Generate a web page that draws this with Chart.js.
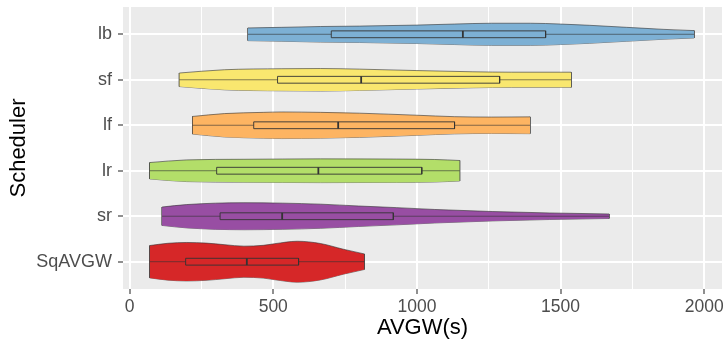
<!DOCTYPE html>
<html>
<head>
<meta charset="utf-8">
<script src="https://cdn.jsdelivr.net/npm/chart.js@4.4.1/dist/chart.umd.min.js"></script>
<style>
  html, body { margin: 0; padding: 0; background: #fff; }
  #wrap { width: 727px; height: 351px; }
</style>
</head>
<body>
<div id="wrap"><canvas id="violins"></canvas></div>
<script>
// bottom to top, as on the y axis
const schedulers = ['SqAVGW', 'sr', 'lr', 'lf', 'sf', 'lb'];
const fills = ['#D62728', '#984EA3', '#B3DE69', '#FDB462', '#F9E76F', '#7DB0D4'];

// box stats (AVGW seconds)
const q1 = [195, 315, 303, 432, 515, 702];
const medians = [408, 531, 657, 726, 806, 1160];
const q3 = [588, 918, 1017, 1131, 1288, 1448];

// density outline: where it was read, and relative width (1 = widest violin)
const sqavgwAt = [70, 133, 199, 266, 332, 398, 465, 505, 584, 664, 744, 817];
const sqavgwDensity = [0.79, 0.90, 0.94, 0.91, 0.83, 0.76, 0.80, 0.88, 1.0, 0.89, 0.61, 0.38];
const srAt = [113, 199, 398, 531, 664, 797, 930, 1062, 1262, 1461, 1669];
const srDensity = [0.45, 0.57, 0.66, 0.64, 0.59, 0.50, 0.42, 0.33, 0.23, 0.16, 0.11];
const lrAt = [70, 199, 398, 664, 930, 1062, 1149];
const lrDensity = [0.40, 0.53, 0.56, 0.58, 0.57, 0.55, 0.50];
const lfAt = [219, 330, 465, 530, 665, 800, 1000, 1130, 1260, 1394];
const lfDensity = [0.43, 0.57, 0.63, 0.65, 0.63, 0.59, 0.49, 0.42, 0.40, 0.41];
const sfAt = [173, 330, 530, 665, 800, 1000, 1195, 1330, 1537];
const sfDensity = [0.33, 0.49, 0.54, 0.55, 0.52, 0.45, 0.39, 0.37, 0.37];
const lbAt = [412, 530, 665, 800, 1000, 1130, 1260, 1395, 1500, 1600, 1730, 1860, 1965];
const lbDensity = [0.31, 0.34, 0.38, 0.40, 0.45, 0.50, 0.54, 0.54, 0.50, 0.44, 0.34, 0.24, 0.18];

const outlineAt = [sqavgwAt, srAt, lrAt, lfAt, sfAt, lbAt];
const outlineDensity = [sqavgwDensity, srDensity, lrDensity, lfDensity, sfDensity, lbDensity];

const VIOLIN_HALF = 0.45;
const BOX_HALF = 0.075;
const INK = '#333333';

Chart.defaults.font.family = '"Liberation Sans", Arial, sans-serif';

function seg(points, opts) {
  return Object.assign({
    data: points,
    borderColor: INK,
    borderWidth: 0.6,
    pointRadius: 0,
    fill: false
  }, opts);
}

function violinDatasets(i) {
  const c = i + 1;
  const xs = outlineAt[i];
  const dens = outlineDensity[i];
  const last = xs.length - 1;
  const top = xs.map((x, k) => ({ x, y: c + dens[k] * VIOLIN_HALF }));
  const bottom = xs.map((x, k) => ({ x, y: c - dens[k] * VIOLIN_HALF }));
  const lo = c - BOX_HALF, hi = c + BOX_HALF;

  return [
    seg(top, { fill: '+1', backgroundColor: fills[i], cubicInterpolationMode: 'monotone', order: 4 }),
    seg(bottom, { cubicInterpolationMode: 'monotone', order: 4 }),
    seg([top[0], bottom[0]], { order: 4 }),
    seg([top[last], bottom[last]], { order: 4 }),
    seg([{ x: xs[0], y: c }, { x: q1[i], y: c }], { order: 3 }),
    seg([{ x: q3[i], y: c }, { x: xs[last], y: c }], { order: 3 }),
    seg([
      { x: q1[i], y: lo }, { x: q1[i], y: hi }, { x: q3[i], y: hi },
      { x: q3[i], y: lo }, { x: q1[i], y: lo }
    ], { borderWidth: 0.9, order: 2 }),
    seg([{ x: medians[i], y: lo }, { x: medians[i], y: hi }], { borderWidth: 1.8, order: 1 })
  ];
}

const datasets = [];
schedulers.forEach((_, i) => datasets.push(...violinDatasets(i)));

const panelBackground = {
  id: 'panelBackground',
  beforeDraw(chart) {
    const { ctx, chartArea: a } = chart;
    ctx.save();
    ctx.fillStyle = '#EBEBEB';
    ctx.fillRect(a.left, a.top, a.right - a.left, a.bottom - a.top);
    ctx.restore();
  }
};

const isMajor = ctx => ctx.tick && ctx.tick.value % 500 === 0;

new Chart(document.getElementById('violins'), {
  type: 'line',
  data: { datasets },
  options: {
    responsive: true,
    maintainAspectRatio: false,
    animation: false,
    events: [],
    layout: { padding: { top: 7, right: 5, left: 0, bottom: 0 } },
    plugins: {
      legend: { display: false },
      tooltip: { enabled: false }
    },
    scales: {
      x: {
        type: 'linear',
        min: -23,
        max: 2062,
        border: { display: false },
        grid: {
          color: '#FFFFFF',
          lineWidth: ctx => isMajor(ctx) ? 2 : 1,
          tickColor: ctx => isMajor(ctx) ? INK : 'rgba(0,0,0,0)',
          tickLength: 5,
          tickWidth: 1.1
        },
        ticks: {
          stepSize: 250,
          includeBounds: false,
          autoSkip: false,
          maxRotation: 0,
          padding: 4,
          color: '#4D4D4D',
          font: { size: 17.5, lineHeight: 1 },
          callback: v => v % 500 === 0 ? String(v) : ''
        },
        title: {
          display: true,
          text: 'AVGW(s)',
          color: '#000000',
          font: { size: 22 },
          padding: { top: 0, bottom: 10 }
        },
        afterFit: s => {
          s.height = 62;
          s.paddingLeft = 0;
          s.paddingRight = 0;
        }
      },
      y: {
        type: 'linear',
        min: 0.4,
        max: 6.6,
        border: { display: false },
        grid: {
          color: '#FFFFFF',
          lineWidth: 2,
          tickColor: INK,
          tickLength: 5,
          tickWidth: 1.1
        },
        ticks: {
          stepSize: 1,
          includeBounds: false,
          autoSkip: false,
          padding: 6,
          color: '#4D4D4D',
          font: { size: 18 },
          callback: v => schedulers[v - 1]
        },
        title: {
          display: true,
          text: 'Scheduler',
          color: '#000000',
          font: { size: 22 },
          padding: { top: 6, bottom: 0 }
        },
        afterFit: s => {
          s.width = 123;
          s.paddingTop = 0;
          s.paddingBottom = 0;
        }
      }
    }
  },
  plugins: [panelBackground]
});
</script>
</body>
</html>
